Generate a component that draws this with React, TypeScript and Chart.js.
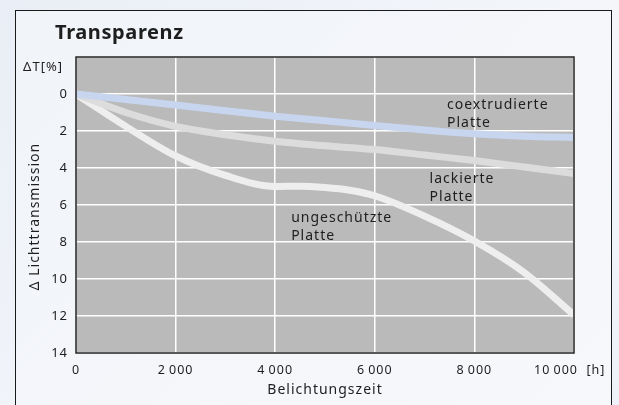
import React, { useEffect, useRef } from 'react';
import { Chart, registerables } from 'chart.js';

Chart.register(...registerables);

// ---- data ----
const hours = [0, 1000, 2000, 3000, 4000, 5000, 6000, 7000, 8000, 9000, 10000];
const coextrudiert = [0, 0.3, 0.6, 0.9, 1.2, 1.45, 1.7, 1.95, 2.15, 2.28, 2.35];
const lackiert = [0, 1.0, 1.75, 2.2, 2.55, 2.8, 3.0, 3.3, 3.6, 3.95, 4.3];
const hoursUngeschuetzt = [0, 1000, 2000, 3000, 4000, 4500, 5000, 5500, 6000, 7000, 8000, 9000, 10000];
const ungeschuetzt = [0, 1.75, 3.35, 4.4, 5.0, 4.98, 5.05, 5.2, 5.5, 6.6, 7.95, 9.65, 11.95];

const xTicks = [0, 2000, 4000, 6000, 8000, 10000];
const xTickLabels = ['0', '2\u2009000', '4\u2009000', '6\u2009000', '8\u2009000', '10\u2009000  [h]  '];
const yTickValues = [0, 2, 4, 6, 8, 10, 12, 14];

const seriesLabels = [
  ['coextrudierte', 'Platte'],
  ['lackierte', 'Platte'],
  ['ungeschützte', 'Platte'],
];

const FONT = '"Noto Sans", "DejaVu Sans", sans-serif';
const TEXT = '#1e1e1e';

const toPts = (xs: number[], ys: number[]) => xs.map((x, i) => ({ x, y: ys[i] }));

const plotBg = {
  id: 'plotBg',
  beforeDraw(chart: any) {
    const { ctx, chartArea } = chart;
    ctx.letterSpacing = '1px';
    ctx.save();
    ctx.fillStyle = '#bababa';
    ctx.fillRect(chartArea.left, chartArea.top, chartArea.right - chartArea.left, chartArea.bottom - chartArea.top);
    ctx.restore();
  },
  afterDatasetsDraw(chart: any) {
    const { ctx, chartArea } = chart;
    ctx.save();
    ctx.strokeStyle = '#222';
    ctx.lineWidth = 1.5;
    ctx.strokeRect(chartArea.left, chartArea.top, chartArea.right - chartArea.left, chartArea.bottom - chartArea.top);
    ctx.restore();
  },
  afterDraw(chart: any) {
    const { ctx } = chart;
    const xs = chart.scales.x;
    const ys = chart.scales.y;
    ctx.save();
    ctx.fillStyle = TEXT;
    ctx.textBaseline = 'alphabetic';
    ctx.textAlign = 'left';
    ctx.font = `bold 20px ${FONT}`;
    ctx.letterSpacing = '0.6px';
    ctx.fillText('Transparenz', 55, 39);
    ctx.letterSpacing = '1px';
    ctx.font = `13px ${FONT}`;
    ctx.textAlign = 'right';
    ctx.textBaseline = 'middle';
    ctx.fillText('\u0394T[%]', 63, 67);
    ctx.textAlign = 'left';
    ctx.font = `14px ${FONT}`;
    const anchors = [
      [7450, 0.6],
      [7100, 4.6],
      [4320, 6.7],
    ];
    anchors.forEach((a, i) => {
      const px = xs.getPixelForValue(a[0]);
      const py = ys.getPixelForValue(a[1]);
      ctx.fillText(seriesLabels[i][0], px, py);
      ctx.fillText(seriesLabels[i][1], px, py + 18);
    });
    ctx.restore();
  },
};

export default function App() {
  const ref = useRef<HTMLCanvasElement>(null);
  useEffect(() => {
    const chart = new Chart(ref.current!, {
      type: 'line',
      data: {
        datasets: [
          { label: 'coextrudierte Platte', data: toPts(hours, coextrudiert), borderColor: '#c7d5ee' },
          { label: 'lackierte Platte', data: toPts(hours, lackiert), borderColor: '#dcdcdc' },
          { label: 'ungeschützte Platte', data: toPts(hoursUngeschuetzt, ungeschuetzt), borderColor: '#eeeeee' },
        ].map((d) => ({
          ...d,
          borderWidth: 7,
          pointRadius: 0,
          fill: false,
          cubicInterpolationMode: 'monotone' as const,
          borderCapStyle: 'butt' as const,
        })),
      },
      options: {
        animation: false,
        responsive: false,
        devicePixelRatio: 1,
        layout: { padding: { left: 0, top: 57, right: 45, bottom: 0 } },
        plugins: { legend: { display: false }, tooltip: { enabled: false }, title: { display: false } },
        scales: {
          x: {
            type: 'linear',
            min: 0,
            max: 10000,
            afterFit: (s: any) => { s.height = 52; },
            afterBuildTicks: (s: any) => { s.ticks = xTicks.map((v) => ({ value: v })); },
            ticks: {
              autoSkip: false,
              maxRotation: 0,
              padding: 10,
              color: TEXT,
              font: { family: FONT, size: 12.5 },
              callback: (v: any) => xTickLabels[xTicks.indexOf(Number(v))] ?? '',
            },
            grid: { color: '#ffffff', lineWidth: 1.5, drawTicks: false },
            border: { display: false },
            title: {
              display: true,
              text: 'Belichtungszeit',
              color: TEXT,
              font: { family: FONT, size: 14 },
              padding: { top: 0, bottom: 7 },
            },
          },
          y: {
            type: 'linear',
            min: -2,
            max: 14,
            reverse: true,
            afterFit: (s: any) => { s.width = 76; },
            afterBuildTicks: (s: any) => { s.ticks = [-2, ...yTickValues].map((v) => ({ value: v })); },
            ticks: {
              autoSkip: false,
              padding: 8,
              color: TEXT,
              font: { family: FONT, size: 13 },
              callback: (v: any) => (Number(v) < 0 ? '' : String(v)),
            },
            grid: { color: '#ffffff', lineWidth: 1.5, drawTicks: false },
            border: { display: false },
            title: {
              display: true,
              text: '\u0394 Lichttransmission     ',
              color: TEXT,
              font: { family: FONT, size: 14 },
              padding: { top: 27, bottom: 0 },
            },
          },
        },
      },
      plugins: [plotBg],
    });
    return () => chart.destroy();
  }, []);

  return (
    <div
      style={{
        position: 'fixed',
        left: 0,
        top: 0,
        width: 619,
        height: 405,
        overflow: 'hidden',
        background: 'linear-gradient(135deg, #e9eef6 0%, #f4f6fa 60%, #eef2f8 100%)',
      }}
    >
      <div
        style={{
          position: 'absolute',
          left: 15,
          top: 10,
          width: 597,
          height: 420,
          border: '1.5px solid #1a1a1a',
          background: 'linear-gradient(135deg, #f1f4f9 0%, #f7f8fb 100%)',
          boxSizing: 'border-box',
        }}
      />
      <canvas ref={ref} width={619} height={405} style={{ position: 'absolute', left: 0, top: 0 }} />
    </div>
  );
}
